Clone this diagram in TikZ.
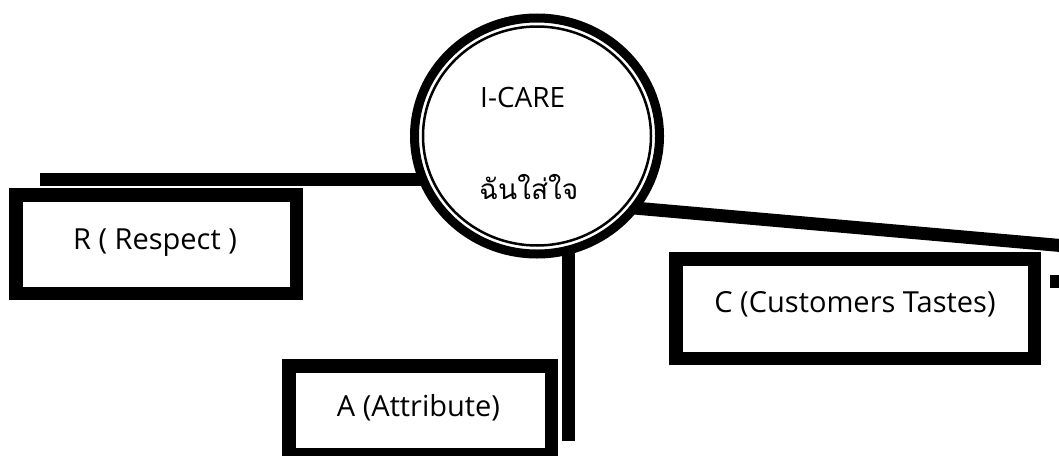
\documentclass[tikz,border=0pt]{standalone}
\usepackage{fontspec}
\setmainfont{Open Sans}
\newfontfamily\thaifont[Script=Thai]{Loma}
\usetikzlibrary{shapes.geometric}

\tikzset{
  frame/.style={draw, line width=13.5, inner sep=0, outer sep=0},
  link/.style={line width=13},
  word/.style={anchor=base west, inner sep=0, font=\fontsize{28}{34}\selectfont},
  boxword/.style={anchor=base, inner sep=0, font=\fontsize{29}{35}\selectfont},
}

\begin{document}
\begin{tikzpicture}[x=1pt, y=-1pt]
        \useasboundingbox (0,0) rectangle (1059,455);

        % ends of the links
        \coordinate (hub) at (537,136);
        \coordinate (rEnd) at (40,179.5);
        \coordinate (cFoot) at (600,205);
        \coordinate (cEnd) at (1066,246);
        \coordinate (aEnd) at (568.5,441);

        \draw[link] (rEnd) -- (rEnd -| hub);
        \draw[link] (cFoot) -- (cEnd);
        \draw[link] (aEnd |- hub) -- (aEnd);

        % the circle
        \node[ellipse, draw, fill=white, line width=9, inner sep=0,
              minimum width=245, minimum height=236] at (hub)(icare){};
        \draw[line width=2.5] (hub) ellipse [x radius=114, y radius=109.5];
        \node[word] at (480,107)(title){I-CARE};
        \node[word, font=\thaifont\fontsize{28}{34}\selectfont] at (479,199)(thai){ฉันใส่ใจ};

        % the boxes
        \node[frame, minimum width=280.5, minimum height=98.5] at (156,244)(rbox){};
        \node[frame, minimum width=358.5, minimum height=99.5] at (855,308.5)(cbox){};
        \node[frame, minimum width=262.5, minimum height=89] at (420,410.25)(abox){};
        \node[boxword] at (155,249)(rtext){R ( Respect )};
        \node[boxword] at (855,312)(ctext){C (Customers Tastes)};
        \node[boxword] at (418.5,416)(atext){A (Attribute)};

        \fill (1050,275) rectangle (1062,288);
    \end{tikzpicture}
\end{document}
